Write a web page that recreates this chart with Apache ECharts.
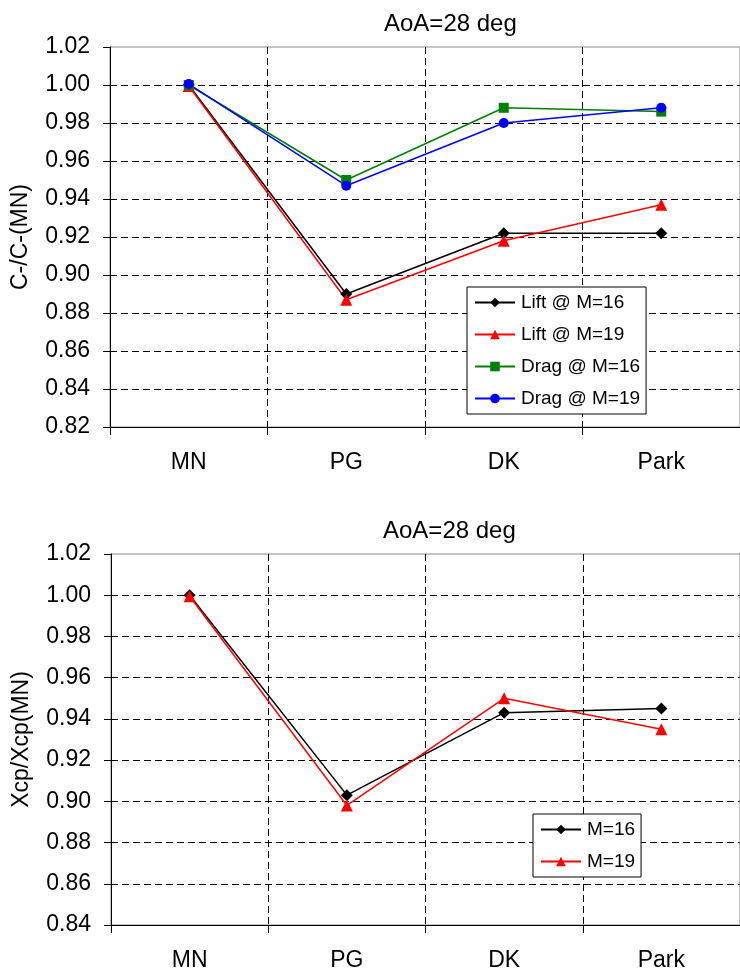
<!DOCTYPE html>
<html><head><meta charset="utf-8">
<script src="https://cdn.jsdelivr.net/npm/echarts@6/dist/echarts.min.js"></script>
<style>html,body{margin:0;padding:0;background:#fff}#c{width:740px;height:972px}</style>
</head><body><div id="c"></div>
<script>
const categories = ['MN', 'PG', 'DK', 'Park'];
const topTitle = 'AoA=28 deg';
const bottomTitle = 'AoA=28 deg';
const topYName = 'C-/C-(MN)';
const bottomYName = 'Xcp/Xcp(MN)';
const liftM16 = [1.000, 0.890, 0.922, 0.922];
const liftM19 = [0.9995, 0.887, 0.918, 0.937];
const dragM16 = [1.000, 0.950, 0.988, 0.986];
const dragM19 = [1.0005, 0.947, 0.980, 0.988];
const xcpM16 = [1.000, 0.903, 0.943, 0.945];
const xcpM19 = [0.9995, 0.898, 0.950, 0.935];

const FONT = 'Liberation Sans, Arial, sans-serif';
const dash = [7, 4];
function yAxis(idx, min, name) {
  return {
    type: 'value', gridIndex: idx, min: min, max: 1.02, interval: 0.02,
    name: name, nameLocation: 'middle', nameGap: 78,
    nameTextStyle: { color: '#000', fontSize: 23, fontFamily: FONT },
    axisLine: { show: true, lineStyle: { color: '#000', width: 1 } },
    axisTick: { show: true, length: 7, lineStyle: { color: '#000' } },
    axisLabel: { color: '#000', fontSize: 23, fontFamily: FONT, margin: 20,
      formatter: v => v.toFixed(2) },
    splitLine: { show: true, showMaxLine: false, lineStyle: { color: '#000', type: dash, width: 1 } }
  };
}
function xAxis(idx) {
  return {
    type: 'category', gridIndex: idx, data: categories, boundaryGap: true,
    axisLine: { show: true, lineStyle: { color: '#000', width: 1 } },
    axisTick: { show: true, length: 8, lineStyle: { color: '#000' } },
    axisLabel: { color: '#000', fontSize: 23, fontFamily: FONT, margin: 24 },
    splitLine: { show: true, lineStyle: { color: '#000', type: dash, width: 1 } }
  };
}
function ser(name, data, color, symbol, size, xi, yi) {
  return {
    type: 'line', name: name, data: data, xAxisIndex: xi, yAxisIndex: yi,
    symbol: symbol, symbolSize: size, showAllSymbol: true,
    lineStyle: { color: color, width: 1.5 }, itemStyle: { color: color },
    emphasis: { disabled: true }, animation: false
  };
}
const legendCommon = {
  orient: 'vertical', backgroundColor: '#fff', borderColor: '#000', borderWidth: 1,
  itemWidth: 40, itemHeight: 12, itemGap: 13, padding: [6, 6, 6, 7],
  textStyle: { color: '#000', fontSize: 19, fontFamily: FONT, padding: [0, 0, 0, 1] },
  selectedMode: false
};
const chart = echarts.init(document.getElementById('c'), null, { renderer: 'canvas' });
chart.setOption({
  animation: false,
  backgroundColor: '#fff',
  title: [
    { text: topTitle, left: 379, top: 7, textStyle: { color: '#000', fontSize: 24, fontWeight: 'normal', fontFamily: FONT } },
    { text: bottomTitle, left: 378, top: 514, textStyle: { color: '#000', fontSize: 24, fontWeight: 'normal', fontFamily: FONT } }
  ],
  grid: [
    { left: 110, top: 47, width: 640, height: 380, show: true, borderColor: '#888', borderWidth: 1, backgroundColor: 'transparent' },
    { left: 111, top: 554, width: 634, height: 372, show: true, borderColor: '#888', borderWidth: 1, backgroundColor: 'transparent' }
  ],
  xAxis: [xAxis(0), xAxis(1)],
  yAxis: [yAxis(0, 0.82, topYName), yAxis(1, 0.84, bottomYName)],
  legend: [
    Object.assign({}, legendCommon, { left: 467, top: 287, data: ['Lift @ M=16', 'Lift @ M=19', 'Drag @ M=16', 'Drag @ M=19'] }),
    Object.assign({}, legendCommon, { left: 533, top: 814, data: ['M=16', 'M=19'] })
  ],
  series: [
    ser('Lift @ M=16', liftM16, '#000000', 'diamond', 12, 0, 0),
    ser('Lift @ M=19', liftM19, '#ff0000', 'triangle', 12, 0, 0),
    ser('Drag @ M=16', dragM16, '#008000', 'rect', 10, 0, 0),
    ser('Drag @ M=19', dragM19, '#0000ff', 'circle', 10, 0, 0),
    ser('M=16', xcpM16, '#000000', 'diamond', 12, 1, 1),
    ser('M=19', xcpM19, '#ff0000', 'triangle', 12, 1, 1)
  ]
});
</script></body></html>
